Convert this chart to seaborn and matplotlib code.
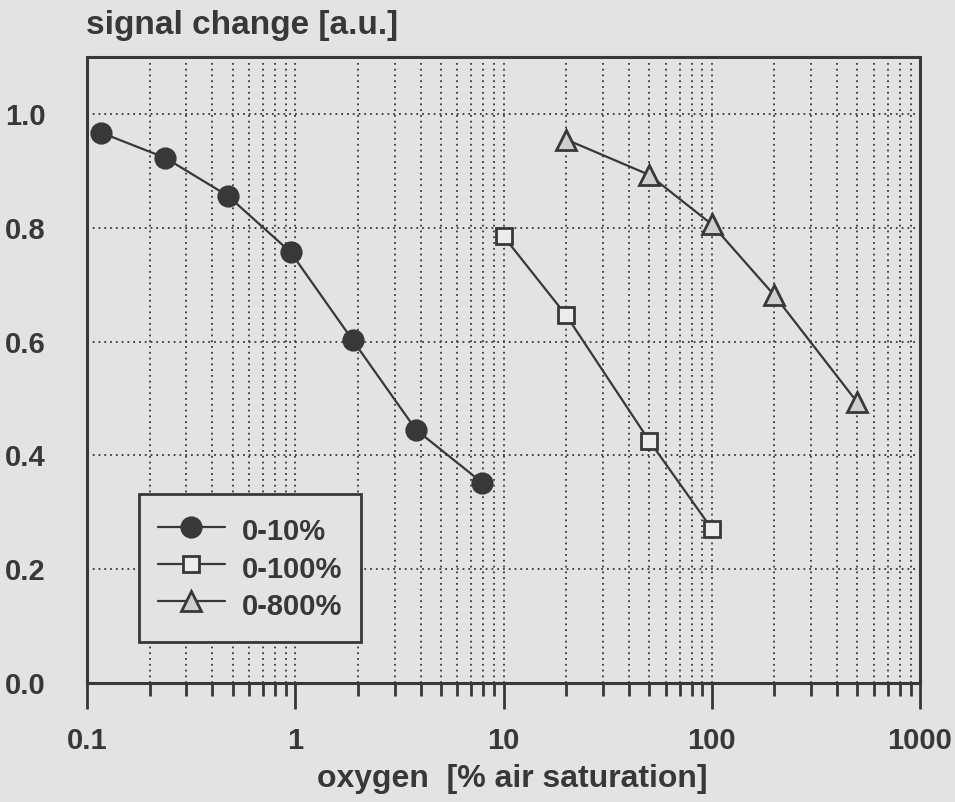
import matplotlib
matplotlib.use("Agg")
import matplotlib.pyplot as plt
import seaborn as sns
import numpy as np
import pandas as pd
from matplotlib.ticker import LogLocator, FixedLocator, NullFormatter, FixedFormatter

# data
x_10 = [0.117, 0.237, 0.475, 0.95, 1.89, 3.8, 7.9]
y_10 = [0.967, 0.923, 0.856, 0.757, 0.602, 0.445, 0.352]
x_100 = [10, 20, 50, 100]
y_100 = [0.785, 0.646, 0.426, 0.271]
x_800 = [20, 50, 100, 200, 500]
y_800 = [0.955, 0.893, 0.806, 0.681, 0.493]
labels = ["0-10%", "0-100%", "0-800%"]
x_ticks = [0.1, 1, 10, 100, 1000]
x_ticklabels = ["0.1", "1", "10", "100", "1000"]
y_ticks = [0.0, 0.2, 0.4, 0.6, 0.8, 1.0]
y_ticklabels = ["0.0", "0.2", "0.4", "0.6", "0.8", "1.0"]

BG = "#e3e3e3"
FG = "#383838"

sns.set_theme(style="white")
plt.rcParams["font.family"] = ["Liberation Sans", "DejaVu Sans"]
plt.rcParams["font.weight"] = "bold"

fig = plt.figure(figsize=(9.55, 8.02), dpi=100, facecolor=BG)
ax = fig.add_axes([0.0911, 0.1484, 0.8723, 0.7805])
ax.set_facecolor(BG)

common = dict(color=FG, linewidth=1.6, markeredgecolor=FG, markeredgewidth=2.0, ax=ax)
sns.lineplot(x=x_10, y=y_10, marker="o", markersize=14, markerfacecolor=FG, label=labels[0], **common)
sns.lineplot(x=x_100, y=y_100, marker="s", markersize=11.5, markerfacecolor="#ececec", label=labels[1], **common)
sns.lineplot(x=x_800, y=y_800, marker="^", markersize=14, markerfacecolor="#cfcfcf", label=labels[2], **common)

ax.set_xscale("log")
ax.set_xlim(0.1, 1000)
ax.set_ylim(0, 1.1)

ax.xaxis.set_major_locator(FixedLocator(x_ticks))
ax.xaxis.set_major_formatter(FixedFormatter(x_ticklabels))
ax.xaxis.set_minor_locator(LogLocator(base=10, subs=np.arange(2, 10)))
ax.xaxis.set_minor_formatter(NullFormatter())
ax.yaxis.set_major_locator(FixedLocator(y_ticks))
ax.yaxis.set_major_formatter(FixedFormatter(y_ticklabels))

grid_kw = dict(color=FG, linestyle=(0, (1, 2.2)), linewidth=1.3)
ax.grid(True, which="major", axis="both", **grid_kw)
ax.grid(True, which="minor", axis="x", **grid_kw)

ax.tick_params(axis="x", which="major", direction="out", length=19, width=2, color=FG,
               labelsize=21, labelcolor=FG, pad=13)
ax.tick_params(axis="x", which="minor", direction="out", length=9, width=2, color=FG)
ax.tick_params(axis="y", which="both", length=0, labelsize=21, labelcolor=FG, pad=30)
ax.tick_params(axis="x", which="both", bottom=True)

for lbl in ax.get_xticklabels() + ax.get_yticklabels():
    lbl.set_fontweight("bold")

for s in ax.spines.values():
    s.set_visible(True)
    s.set_color(FG)
    s.set_linewidth(2.2)

ax.set_xlabel("oxygen  [% air saturation]", fontsize=23, fontweight="bold", color=FG, labelpad=6)
ax.xaxis.label.set_x(0.511)
ax.set_ylabel("")
fig.text(0.090, 0.968, "signal change [a.u.]", fontsize=24, fontweight="bold", color=FG,
         ha="left", va="center")

leg = ax.legend(loc="upper left", bbox_to_anchor=(0.0624, 0.302), fontsize=21, frameon=True,
                fancybox=False, edgecolor=FG, facecolor=BG, framealpha=1,
                handlelength=2.3, handleheight=1.5, handletextpad=0.58, borderpad=0.65,
                labelspacing=0.06, borderaxespad=0)
leg.get_frame().set_linewidth(2.0)
for t in leg.get_texts():
    t.set_color(FG)
    t.set_fontweight("bold")

fig.savefig("out.png", dpi=100, facecolor=BG)
